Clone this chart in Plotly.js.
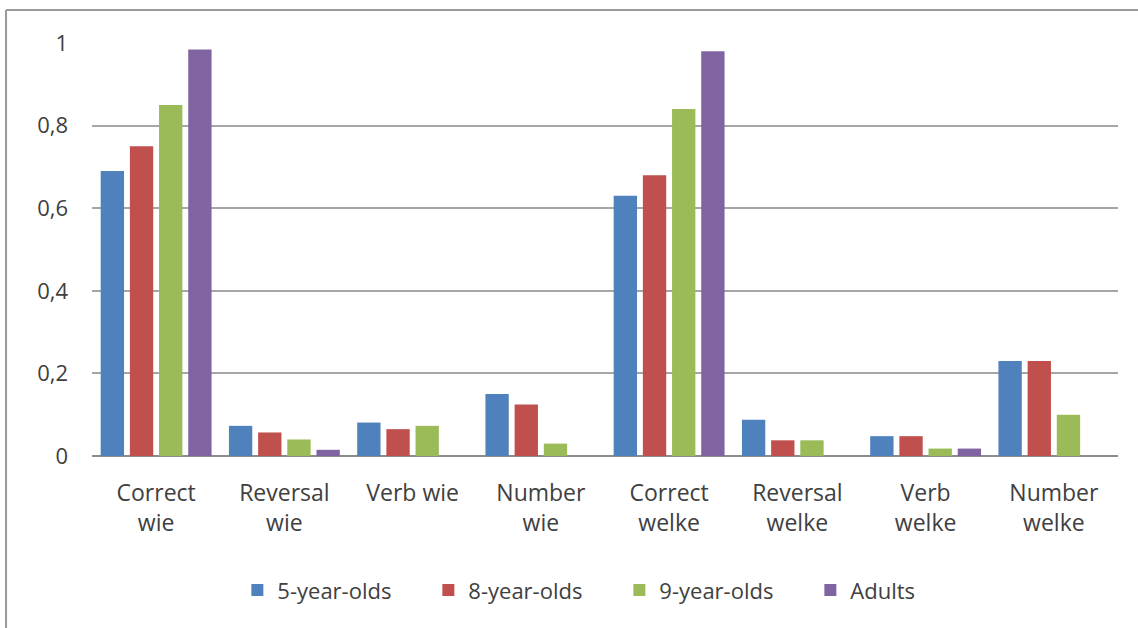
<!DOCTYPE html>
<html>
<head>
<meta charset="utf-8">
<script src="https://cdn.plot.ly/plotly-3.0.1.min.js"></script>
<style>
html, body { margin: 0; padding: 0; background: #ffffff; }
#chart { width: 1138px; height: 628px; }
</style>
</head>
<body>
<div id="chart"></div>
<script>
var categories = ["Correct<br>wie", "Reversal<br>wie", "Verb wie", "Number<br>wie",
                  "Correct<br>welke", "Reversal<br>welke", "Verb<br>welke", "Number<br>welke"];
var fiveYearOlds  = [0.69, 0.073, 0.081, 0.15, 0.63, 0.088, 0.048, 0.23];
var eightYearOlds = [0.75, 0.057, 0.065, 0.125, 0.68, 0.038, 0.048, 0.23];
var nineYearOlds  = [0.85, 0.040, 0.073, 0.03, 0.84, 0.038, 0.018, 0.10];
var adults        = [0.984, 0.015, 0, 0, 0.98, 0, 0.018, 0];
var seriesNames = ["5-year-olds", "8-year-olds", "9-year-olds", "Adults"];
var seriesColors = ["#4F81BD", "#C0504D", "#9BBB59", "#8064A2"];
var yTickVals = [0, 0.2, 0.4, 0.6, 0.8, 1];
var yTickText = ["0", "0,2", "0,4", "0,6", "0,8", "1"];

var seriesValues = [fiveYearOlds, eightYearOlds, nineYearOlds, adults];
var traces = seriesValues.map(function (vals, i) {
  return {
    type: "bar",
    name: seriesNames[i],
    x: categories,
    y: vals,
    marker: { color: seriesColors[i], line: { width: 0 } },
    hoverinfo: "x+y+name"
  };
});

var fontFamily = "'Open Sans', 'Liberation Sans', sans-serif";
var textColor = "#404040";

var layout = {
  width: 1138,
  height: 628,
  paper_bgcolor: "#ffffff",
  plot_bgcolor: "#ffffff",
  margin: { l: 92, r: 20, t: 43, b: 172, pad: 0 },
  barmode: "group",
  bargap: 0.09,
  bargroupgap: 0.2,
  showlegend: true,
  legend: {
    orientation: "h",
    x: 0.514,
    xanchor: "center",
    y: -0.325,
    yanchor: "middle",
    font: { family: fontFamily, size: 22, color: textColor },
    itemwidth: 30,
    entrywidth: 146,
    traceorder: "normal"
  },
  xaxis: {
    type: "category",
    showgrid: false,
    showline: false,
    zeroline: false,
    ticks: "",
    ticklabelstandoff: 21,
    tickfont: { family: fontFamily, size: 23, color: textColor },
    fixedrange: true
  },
  yaxis: {
    range: [0, 1],
    tickvals: yTickVals,
    ticktext: yTickText,
    showgrid: true,
    gridcolor: "#a6a6a6",
    gridwidth: 2,
    zeroline: true,
    zerolinecolor: "#8c8c8c",
    zerolinewidth: 2,
    showline: false,
    ticks: "",
    ticklabelstandoff: 23,
    tickfont: { family: fontFamily, size: 22, color: textColor },
    fixedrange: true
  },
  shapes: [
    { type: "line", xref: "paper", yref: "paper",
      x0: -0.0838, x1: -0.0838, y0: 1.0799, y1: -0.45,
      line: { color: "#9a9a9a", width: 2 } },
    { type: "line", xref: "paper", yref: "paper",
      x0: -0.0838, x1: 1.03, y0: 1.0799, y1: 1.0799,
      line: { color: "#9a9a9a", width: 2 } }
  ]
};

Plotly.newPlot("chart", traces, layout, { displayModeBar: false, staticPlot: true });
</script>
</body>
</html>
